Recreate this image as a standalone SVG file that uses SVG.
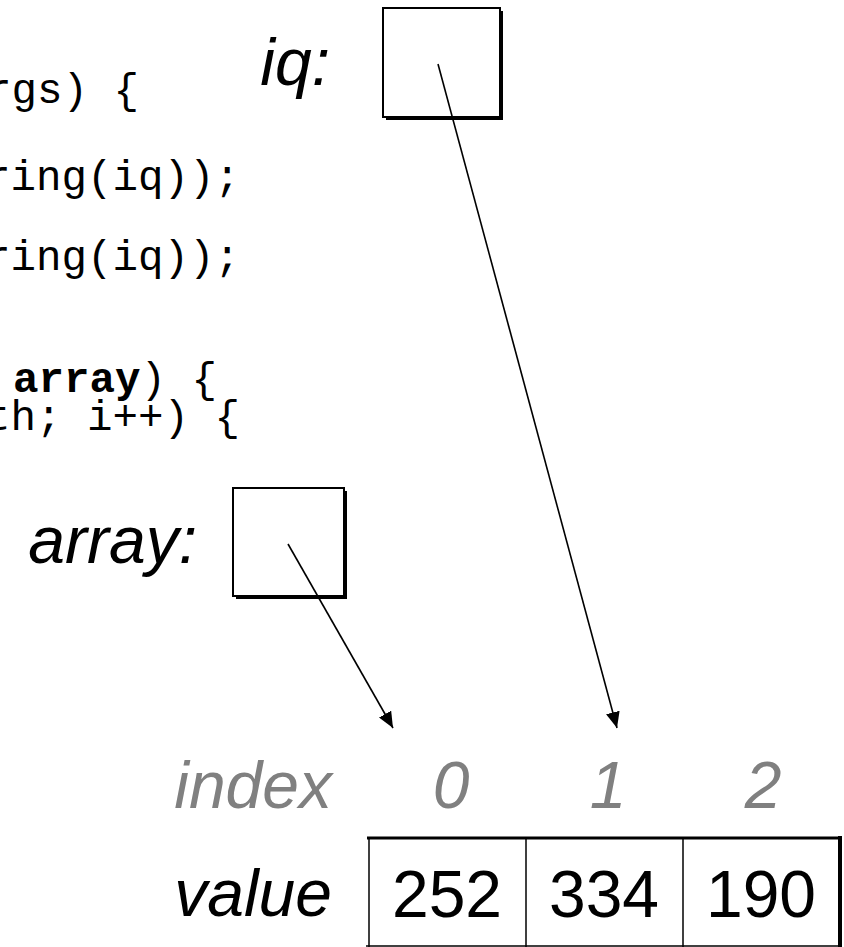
<svg xmlns="http://www.w3.org/2000/svg" width="844" height="947" viewBox="0 0 844 947">
<style>
.code{font-family:"Liberation Mono","Courier New",monospace;font-size:42.5px;fill:#000;}
.lbl{font-family:"Liberation Sans",Arial,sans-serif;font-style:italic;font-size:66px;fill:#000;}
.idx{font-family:"Liberation Sans",Arial,sans-serif;font-style:italic;font-size:66px;fill:#808080;}
.num{font-family:"Liberation Sans",Arial,sans-serif;font-size:66px;fill:#000;text-anchor:middle;}
.box{fill:#fff;stroke:#000;stroke-width:2;}
.shadow{fill:#000;}
.conn{stroke:#000;stroke-width:1.6;fill:none;marker-end:url(#arrow);}
</style>
<defs>
<marker id="arrow" viewBox="0 0 16 14" refX="16" refY="7" markerWidth="16" markerHeight="14" orient="auto" markerUnits="userSpaceOnUse">
<path d="M0,0 L16,7 L0,14 z" fill="#000"/>
</marker>
</defs>
<rect width="844" height="947" fill="#fff"/>
<g id="code">
<text class="code" x="-14" y="103" xml:space="preserve">rgs) {</text>
<text class="code" x="-15" y="190">ring(iq));</text>
<text class="code" x="-15" y="270">ring(iq));</text>
<text class="code" x="13" y="392" xml:space="preserve"><tspan font-weight="bold">array</tspan>) {</text>
<text class="code" x="-15" y="430" xml:space="preserve">th; i++) {</text>
</g>
<g id="iq">
<text class="lbl" x="330" y="85" text-anchor="end">iq:</text>
<rect class="shadow" x="386" y="11" width="117" height="109"/>
<rect class="box" x="383" y="8" width="117" height="109"/>
</g>
<g id="array">
<text class="lbl" x="197" y="563" text-anchor="end">array:</text>
<rect class="shadow" x="236" y="491" width="111" height="108"/>
<rect class="box" x="233" y="488" width="111" height="108"/>
</g>
<g id="table">
<text class="idx" x="332" y="808" text-anchor="end">index</text>
<text class="idx" x="451" y="808" text-anchor="middle">0</text>
<text class="idx" x="608" y="808" text-anchor="middle">1</text>
<text class="idx" x="763" y="808" text-anchor="middle">2</text>
<text class="lbl" x="332" y="916" text-anchor="end">value</text>
<line x1="367" y1="838" x2="842" y2="838" stroke="#000" stroke-width="3"/>
<line x1="369" y1="838" x2="369" y2="947" stroke="#000" stroke-width="1.5"/>
<line x1="526" y1="838" x2="526" y2="947" stroke="#000" stroke-width="1.5"/>
<line x1="683" y1="838" x2="683" y2="947" stroke="#000" stroke-width="1.5"/>
<line x1="840" y1="836" x2="840" y2="947" stroke="#000" stroke-width="4"/>
<line x1="366" y1="946" x2="842" y2="946" stroke="#000" stroke-width="1.5"/>
<text class="num" x="447" y="917">252</text>
<text class="num" x="604" y="917">334</text>
<text class="num" x="761" y="917">190</text>
</g>
<g id="connectors">
<line class="conn" x1="288" y1="544" x2="393" y2="728"/>
<line class="conn" x1="438" y1="64" x2="617" y2="728"/>
</g>
</svg>
